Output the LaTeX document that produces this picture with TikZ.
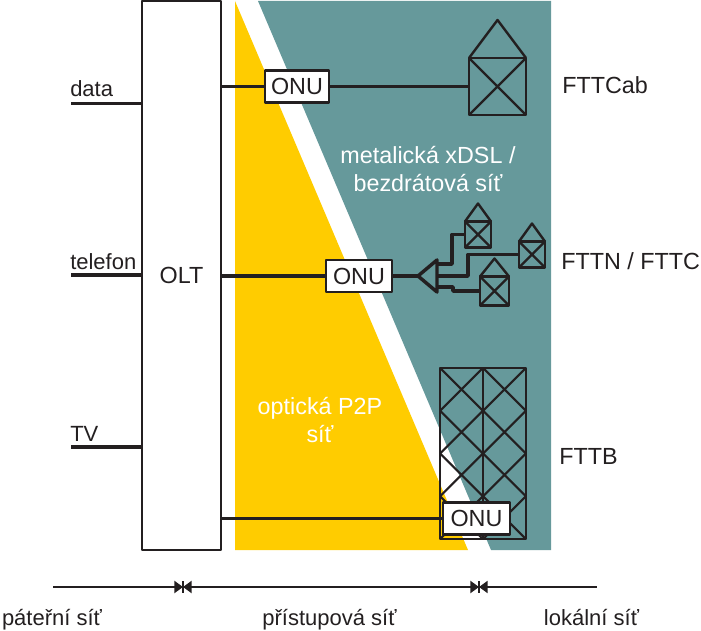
\documentclass[tikz,border=0pt]{standalone}
\usepackage{fontspec}
\setmainfont{Liberation Sans}
\usetikzlibrary{arrows.meta}
\definecolor{tealnet}{HTML}{66999B}
\definecolor{yellownet}{HTML}{FFCC00}
\definecolor{inknet}{HTML}{231F20}
\tikzset{
    labelnet/.style={font=\fontsize{17.5}{21}\selectfont,text=inknet,inner sep=0pt},
    labelsmall/.style={labelnet,font=\fontsize{16.5}{20}\selectfont},
    boxonu/.style={labelnet,draw=inknet,line width=1.8pt,fill=white,outer sep=0pt,minimum width=#1*.75pt,minimum height=24pt},
    room/.style={draw=inknet,line width=1.8pt,outer sep=0pt,inner sep=0pt},
    wire/.style={draw=inknet,line width=2.8pt},
    axisnet/.style={draw=inknet,line width=1.9pt,>={Triangle[length=6.5pt,width=9pt]}}
}
\newcommand{\housenet}[5]{% name, centre x, centre y, width, apex height
    \node[room,minimum width=#4*.75pt,minimum height=#4*.75pt] (#1) at (#2,#3) {};
    \draw[draw=inknet,line width=1.8pt,line join=round] (#1.north west)--(#1.south east) (#1.south west)--(#1.north east)
    (#1.north west)--(#2,#3-#4/2-#5)--(#1.north east);
}
\begin{document}
\begin{tikzpicture}[>=stealth, line join=round, x=.75pt, y=-.75pt]
    \useasboundingbox (0,0) rectangle (701,631);
    \fill[yellownet] (235,1)--(235,550)--(468,550)--cycle;
    \fill[tealnet] (258,1)--(551,1)--(551,550)--(491,550)--cycle;
    \node[draw=inknet,line width=1.8pt,fill=white,outer sep=0pt,minimum width=59pt,minimum height=411.75pt,labelnet] (olt) at (181.5,275.5) {OLT};
    % vstupy
    \foreach \name/\txt/\y/\b in {data/data/103.5/97, telefon/telefon/275/270, tv/TV/447/442}{
        \coordinate (\name) at (71,\y);
        \draw[wire] (\name)--(\name-|olt.west);
        \node[labelsmall,anchor=base west] (\name txt) at (70,\b) {\txt};
    }
    % FTTCab
    \node[boxonu=64] (onua) at (297,86.5) {ONU};
    \housenet{cab}{497.5}{86.5}{57}{38}
    \draw[wire] (olt.east|-onua.west)--(onua.west) (onua.east)--(cab.west);
    % FTTN
    \node[boxonu=66] (onub) at (359,276) {ONU};
    \draw[wire] (olt.east|-onub.west)--(onub.west);
    \coordinate (fan) at (418,276);
    \coordinate (fana) at (437,264);
    \coordinate (fanb) at (437,276);
    \coordinate (fanc) at (437,287);
    \draw[draw=inknet,line width=2.6pt] (fan)--(437,260)--(437,292)--cycle;
    \draw[wire] (onub.east)--(fan);
    \housenet{ha}{478}{234.5}{26}{18}
    \housenet{hb}{532}{254.5}{26}{18}
    \housenet{hc}{494.5}{291}{29}{18}
    \draw[wire] (fana)--(452,264)--(452,234.5)--(ha.west);
    \draw[wire] (fanb)--(468,276)--(468,254.5)--(hb.west);
    \draw[wire] (fanc)--(453,287)--(453,291)--(hc.west);
    % FTTB
    \draw[draw=inknet,line width=1.8pt] (440,368) rectangle (526,539) (483,368)--(483,539);
    \foreach \i in {0,1}\foreach \j in {0,1,2,3}
        \draw[draw=inknet,line width=1.6pt] (440+43*\i,368+42.75*\j)--+(43,42.75) (440+43*\i+43,368+42.75*\j)--+(-43,42.75);
    \node[boxonu=67] (onuc) at (476.5,518.5) {ONU};
    \draw[wire] (olt.east|-onuc.west)--(onuc.west);
    % popisy
    \node[labelnet,text=white,align=center] (metal) at (428,169) {metalická xDSL /\\bezdrátová síť};
    \node[labelnet,text=white,align=center] (opt) at (320,420) {optická P2P\\síť};
    \node[labelnet,anchor=west] (fttcab) at (562,85) {FTTCab};
    \node[labelnet,anchor=west] (fttn) at (561,261) {FTTN / FTTC};
    \node[labelnet,anchor=west] (fttb) at (559,456) {FTTB};
    % dole
    \coordinate (bl) at (53,587);
    \coordinate (br) at (597,587);
    \coordinate (ba) at (183,587);
    \coordinate (bb) at (479,587);
    \draw[axisnet,->] (bl)--(ba);
    \draw[axisnet,<->] (ba)--(bb);
    \draw[axisnet,<-] (bb)--(br);
    \draw[axisnet] (ba)--+(0,-6) (ba)--+(0,6) (bb)--+(0,-6) (bb)--+(0,6);
    \node[labelsmall,anchor=base] (pat) at (52,625) {páteřní síť};
    \node[labelsmall,anchor=base] (pri) at (329.5,625) {přístupová síť};
    \node[labelsmall,anchor=base] (lok) at (591.5,625) {lokální síť};
\end{tikzpicture}
\end{document}
